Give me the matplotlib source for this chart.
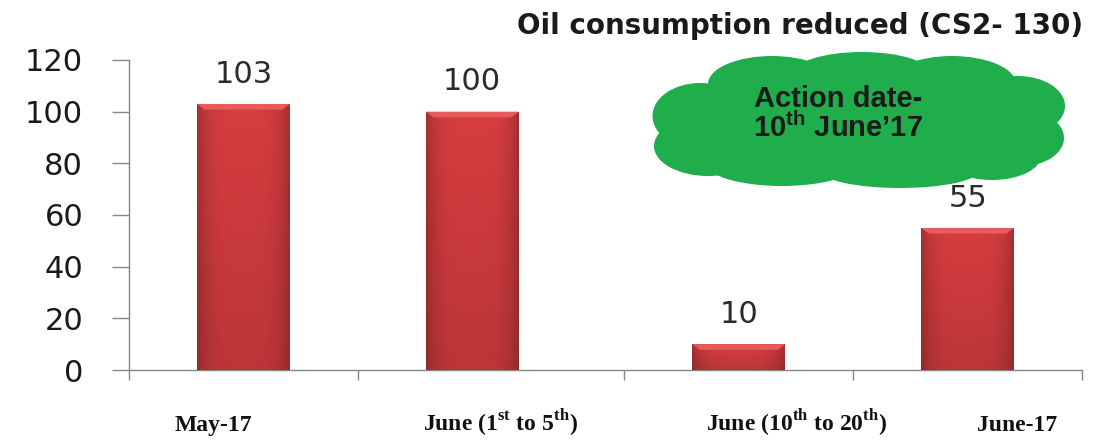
import matplotlib.pyplot as plt
import matplotlib.transforms as mtransforms
from matplotlib.patches import Ellipse, Polygon
import numpy as np

plt.rcParams['mathtext.fontset'] = 'custom'
plt.rcParams['mathtext.bf'] = 'Liberation Serif:bold'
plt.rcParams['mathtext.sf'] = 'Liberation Sans:bold'

# data
categories = ['May-17', r'June (1$^{\mathbf{st}}$ to 5$^{\mathbf{th}}$)',
              r'June (10$^{\mathbf{th}}$ to 20$^{\mathbf{th}}$)', 'June-17']
values = [103, 100, 10, 55]
yticks = [0, 20, 40, 60, 80, 100, 120]
title = 'Oil consumption reduced (CS2- 130)'
cloud_text = "Action date-\n10$^{\\mathsf{th}}$ June\u201917"

# layout (the source picture has a wider gap between the 2nd and 3rd slot)
xpos = [0, 1, 2.165, 3.165]
bounds = [-0.5, 0.5, 1.665, 2.665, 3.665]
label_x = [-0.13, 1.125, 2.42, 3.38]
bar_w = 0.405

W, H = 1117, 441
fig = plt.figure(figsize=(W / 100, H / 100), dpi=100)
ax = fig.add_axes([129 / W, 71 / H, (1082 - 129) / W, 310 / H])

bars = ax.bar(xpos, values, width=bar_w, color='#c53637', zorder=2)

# shaded look on each bar
prof = np.linspace(-1, 1, 60)
shade = 1.0 - 0.22 * np.abs(prof) ** 4
base = np.array([0.84, 0.24, 0.25])
for b in bars:
    x0, y0 = b.get_x(), b.get_y()
    w, h = b.get_width(), b.get_height()
    vert = np.linspace(1.0, 0.88, 50)[:, None, None]
    img = np.clip(base[None, None, :] * shade[None, :, None] * vert, 0, 1)
    im = ax.imshow(img, extent=[x0, x0 + w, y0, y0 + h], aspect='auto', zorder=3)
    im.set_clip_path(b)
    bev = min(2.2, h * 0.25)
    inset = w * 0.08
    top = Polygon([[x0, y0 + h], [x0 + w, y0 + h], [x0 + w - inset, y0 + h - bev],
                   [x0 + inset, y0 + h - bev]], closed=True,
                  facecolor='#e85a5b', edgecolor='none', zorder=4)
    ax.add_patch(top)
    ax.annotate(str(int(h)), (x0 + w / 2, h), xytext=(0, 11), textcoords='offset points',
                ha='center', va='bottom', fontsize=22, color='#2b2b2b')

ax.set_xlim(-0.5, 3.665)
ax.set_ylim(0, 120)
ax.set_yticks(yticks)
ax.set_xticks(bounds)
ax.set_xticklabels([])
ax.tick_params(axis='y', direction='out', length=12, width=1, color='#868686',
               labelsize=22, pad=21, labelcolor='#1a1a1a')
ax.tick_params(axis='x', direction='out', length=7, width=1, color='#868686')
for s in ['top', 'right']:
    ax.spines[s].set_visible(False)
for s in ['left', 'bottom']:
    ax.spines[s].set_color('#868686')
    ax.spines[s].set_linewidth(1)

# category labels
trans = mtransforms.blended_transform_factory(ax.transData, fig.transFigure)
for lx, lab in zip(label_x, categories):
    ax.text(lx, 10 / H, lab, transform=trans, ha='center', va='baseline',
            fontsize=17, fontweight='bold', family='Liberation Serif', color='#111111')

fig.text(1083 / W, 1 - 26 / H, title, ha='right', va='center', fontsize=20,
         fontweight='bold', color='#1a1a1a')

# cloud callout
def px(x, y):
    return x / W, 1 - y / H

lobes = [(860, 120, 330, 112), (700, 116, 95, 66), (708, 146, 108, 60),
         (772, 84, 128, 56), (862, 74, 138, 44), (952, 84, 128, 56),
         (1018, 106, 94, 60), (1022, 138, 84, 56), (782, 164, 150, 44),
         (900, 170, 160, 36), (992, 156, 98, 48)]
for cx, cy, ew, eh in lobes:
    fig.patches.append(Ellipse(px(cx, cy), ew / W, eh / H, transform=fig.transFigure,
                               facecolor='#1fae4b', edgecolor='none', zorder=5))
fig.text(838 / W, 1 - 114 / H, cloud_text, ha='center', va='center', fontsize=21,
         fontweight='bold', family='Liberation Sans', color='#1a1a1a',
         linespacing=1.0, zorder=6)

plt.savefig('out.png', dpi=100)
